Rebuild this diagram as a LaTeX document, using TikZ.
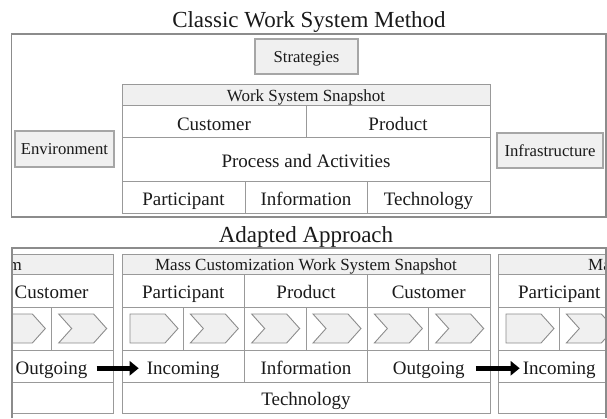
\documentclass[tikz,border=0pt]{standalone}
\usepackage{fontspec}
\setmainfont{Liberation Serif}
\usetikzlibrary{arrows.meta}

\definecolor{linegray}{HTML}{999999}
\definecolor{framegray}{HTML}{8C8C8C}
\definecolor{boxfill}{HTML}{F0F0F0}
\definecolor{boxline}{HTML}{A6A6A6}
\definecolor{ink}{HTML}{1A1A1A}

\tikzset{
  cellline/.style={draw=linegray, line width=1pt},
  hdr/.style={fill=boxfill, draw=linegray, line width=1pt},
  frame/.style={draw=framegray, line width=1.3pt},
  chev/.style={fill=boxfill, draw=framegray, line width=0.9pt, line join=miter},
  sidebox/.style={draw=boxline, fill=boxfill, line width=1.4pt, text=ink,
    font=\fontsize{16.7}{19}\selectfont, inner sep=0pt, text height=11pt, text depth=0pt},
  celltext/.style={anchor=base, inner sep=0pt, text=ink, font=\fontsize{19}{22}\selectfont},
  hdrtext/.style={anchor=base, inner sep=0pt, text=ink, font=\fontsize{17}{20}\selectfont},
  titletext/.style={anchor=base, inner sep=0pt, text=ink, font=\fontsize{23}{26}\selectfont},
  flow/.style={-{Triangle[length=9pt,width=14pt]}, line width=5.5pt, black},
}

% grid of one mass customization snapshot (368 wide), drawn from its left edge
\newcommand{\mcgrid}{%
  \path[hdr] (0,254) rectangle (368,274);
  \path[cellline] (0,274) rectangle (368,413);
  \path[cellline] (0,307) -- (368,307) (0,350) -- (368,350) (0,382) -- (368,382);
  \foreach \k in {1,2} {\path[cellline] ({\k*368/3},274) -- ({\k*368/3},382);}
  \foreach \k in {1,3,5} {\path[cellline] ({\k*368/6},307) -- ({\k*368/6},350);}
  \path[chev] (8,314) -- (43,314) -- (56,328.5) -- (43,343) -- (8,343) -- cycle;
  \foreach \k in {1,...,5} {%
    \path[chev] ({\k*368/6+7},314) -- ++(35,0) -- ++(13,14.5) -- ++(-13,14.5)
      -- ++(-35,0) -- ++(13,-14.5) -- cycle;}
}

\begin{document}
\begin{tikzpicture}[x=1pt, y=-1pt]
\useasboundingbox (0,0) rectangle (607,418);

% ---------- classic method ----------
\node[titletext] (t1) at (309,27) {Classic Work System Method};
\path[frame] (11.7,34) rectangle (606,217);

\node[sidebox, minimum width=103pt, minimum height=35pt] (strat) at (306.5,56.5) {Strategies};
\node[sidebox, minimum width=99pt, minimum height=36pt] (env) at (64.5,149) {Environment};
\node[sidebox, minimum width=106pt, minimum height=35pt] (infra) at (550,150.5) {Infrastructure};

\path[hdr] (122,84) rectangle (490,105);
\path[cellline] (122,105) rectangle (490,213);
\path[cellline] (122,137) -- (490,137) (122,181) -- (490,181);
\path[cellline] (306,105) -- (306,137);
\path[cellline] (245,181) -- (245,213) (367,181) -- (367,213);

\node[hdrtext] (wss) at (306,101) {Work System Snapshot};
\node[celltext] (cust) at (214,130) {Customer};
\node[celltext] (prod) at (398,130) {Product};
\node[celltext] (proc) at (306,167) {Process and Activities};
\node[celltext] (part) at (183.5,205) {Participant};
\node[celltext] (info) at (306,205) {Information};
\node[celltext] (tech) at (428.5,205) {Technology};

% ---------- adapted approach ----------
\node[titletext] (t2) at (306,242) {Adapted Approach};

\begin{scope}
  \clip (12,248) rectangle (606,418);
  \begin{scope}[xshift=-255pt]\mcgrid\end{scope}
  \begin{scope}[xshift=122pt]\mcgrid\end{scope}
  \begin{scope}[xshift=498pt]\mcgrid\end{scope}

  % preceding snapshot, cut at the left
  \node[hdrtext, anchor=base east] (lhdr) at (22,270) {m};
  \node[celltext] (lcust) at (51.6,298.5) {Customer};
  \node[celltext] (lout) at (51.6,374) {Outgoing};

  % current snapshot
  \node[hdrtext] (mhdr) at (306,270) {Mass Customization Work System Snapshot};
  \node[celltext] (mpart) at (183.3,298.5) {Participant};
  \node[celltext] (mprod) at (306,298.5) {Product};
  \node[celltext] (mcust) at (428.7,298.5) {Customer};
  \node[celltext] (min) at (183.3,374) {Incoming};
  \node[celltext] (minfo) at (306,374) {Information};
  \node[celltext] (mout) at (428.7,374) {Outgoing};
  \node[celltext] (mtech) at (306,405) {Technology};

  % following snapshot, cut at the right
  \node[hdrtext, anchor=base west] (rhdr) at (588,270) {Ma};
  \node[celltext] (rpart) at (559.3,298.5) {Participant};
  \node[celltext] (rin) at (559.3,374) {Incoming};
\end{scope}

\path[frame] (12,418) -- (12,248) -- (606,248) -- (606,418);

% hand-over between snapshots
\draw[flow, shorten <=9pt, shorten >=8pt] ([yshift=1.5pt]lout.east) -- ([yshift=1.5pt]min.west);
\draw[flow, shorten <=11pt, shorten >=3pt] ([yshift=1.5pt]mout.east) -- ([yshift=1.5pt]rin.west);
\end{tikzpicture}
\end{document}
